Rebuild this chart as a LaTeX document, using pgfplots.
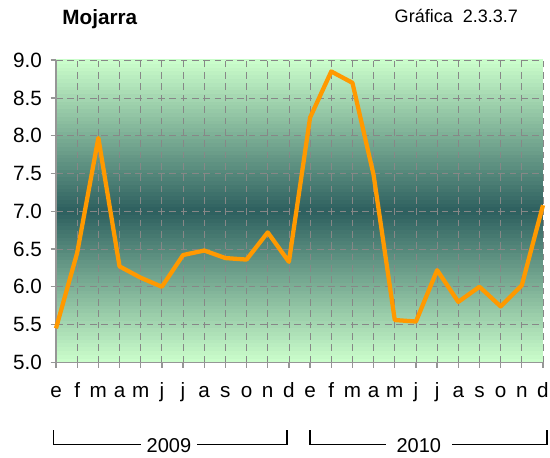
\documentclass[border=0pt]{standalone}
\usepackage{pgfplots}
\pgfplotsset{compat=1.18}
\usepackage{fontspec}
\setmainfont{Liberation Sans}

\definecolor{bgpale}{RGB}{204,255,204}
\definecolor{bgdark}{RGB}{45,95,95}
\definecolor{lineorange}{RGB}{255,153,0}
\definecolor{gridgray}{RGB}{135,135,135}
\definecolor{axisgray}{RGB}{150,150,150}

\begin{document}
\begin{tikzpicture}
\begin{axis}[
    set layers,
    scale only axis,
    width=365pt, height=226.5pt,
    xmin=0, xmax=23,
    ymin=5, ymax=9,
    xtick={0,...,23},
    xticklabels={e,f,m,a,m,j,j,a,s,o,n,d,e,f,m,a,m,j,j,a,s,o,n,d},
    ytick={5,5.5,6,6.5,7,7.5,8,8.5,9},
    yticklabel style={/pgf/number format/fixed,/pgf/number format/fixed zerofill,/pgf/number format/precision=1, xshift=-3pt},
    /pgf/number format/assume math mode=true,
    ticklabel style={font=\fontsize{15.5}{17}\selectfont, black},
    xticklabel style={anchor=base, yshift=-22.5pt},
    axis x line*=bottom,
    axis y line*=left,
    axis line style={-, axisgray, line width=1.2pt},
    tick align=outside,
    major tick length=4pt,
    tick style={axisgray, line width=1pt},
    grid=major,
    major grid style={gridgray, line width=0.6pt, dash pattern=on 5pt off 3.5pt},
    clip=false,
]
% vertical gradient of the plot area, pale at top and bottom, dark at 7.0
\begin{pgfonlayer}{axis background}
\pgfplotsinvokeforeach{0,...,79}{
    \pgfmathtruncatemacro\mixpct{round(100*(1-abs((#1+0.5)/80-0.5)*2))}
    \edef\tmpband{\noexpand\fill[bgdark!\mixpct!bgpale]
        (rel axis cs:0,{#1/80}) rectangle (rel axis cs:1,{(#1+1.3)/80});}
    \tmpband
}
\end{pgfonlayer}

\addplot[lineorange, line width=3.2pt, line join=round] coordinates {
    (0,5.45) (1,6.45) (2,7.97) (3,6.27) (4,6.12) (5,6.00)
    (6,6.42) (7,6.48) (8,6.38) (9,6.36) (10,6.72) (11,6.33)
    (12,8.24) (13,8.85) (14,8.70) (15,7.48) (16,5.56) (17,5.54)
    (18,6.22) (19,5.80) (20,6.00) (21,5.74) (22,6.02) (23,7.08)
};

\node[font=\bfseries\fontsize{15.5}{17}\selectfont] at (rel axis cs:0.09,1.134) {Mojarra};
\node[font=\fontsize{13.5}{15}\selectfont] at (rel axis cs:0.822,1.145) {Gráfica\ \ 2.3.3.7};

\draw[black, line width=1pt] (rel axis cs:-0.005,-0.2255) -- (rel axis cs:-0.005,-0.2728)
    -- (rel axis cs:0.474,-0.2728) -- (rel axis cs:0.474,-0.2255);
\draw[black, line width=1pt] (rel axis cs:0.5216,-0.2255) -- (rel axis cs:0.5216,-0.2728)
    -- (rel axis cs:1.008,-0.2728) -- (rel axis cs:1.008,-0.2255);
\node[fill=white, inner xsep=4pt, inner ysep=0pt, font=\fontsize{15}{17}\selectfont, anchor=base] at (rel axis cs:0.232,-0.297) {2009};
\node[fill=white, inner xsep=8pt, inner ysep=0pt, font=\fontsize{15}{17}\selectfont, anchor=base] at (rel axis cs:0.745,-0.297) {2010};

\coordinate (bbsw) at (rel axis cs:-0.115,-0.314);
\coordinate (bbne) at (rel axis cs:1.0144,1.199);
\end{axis}
\pgfresetboundingbox
\path[use as bounding box] (bbsw) rectangle (bbne);
\end{tikzpicture}
\end{document}
